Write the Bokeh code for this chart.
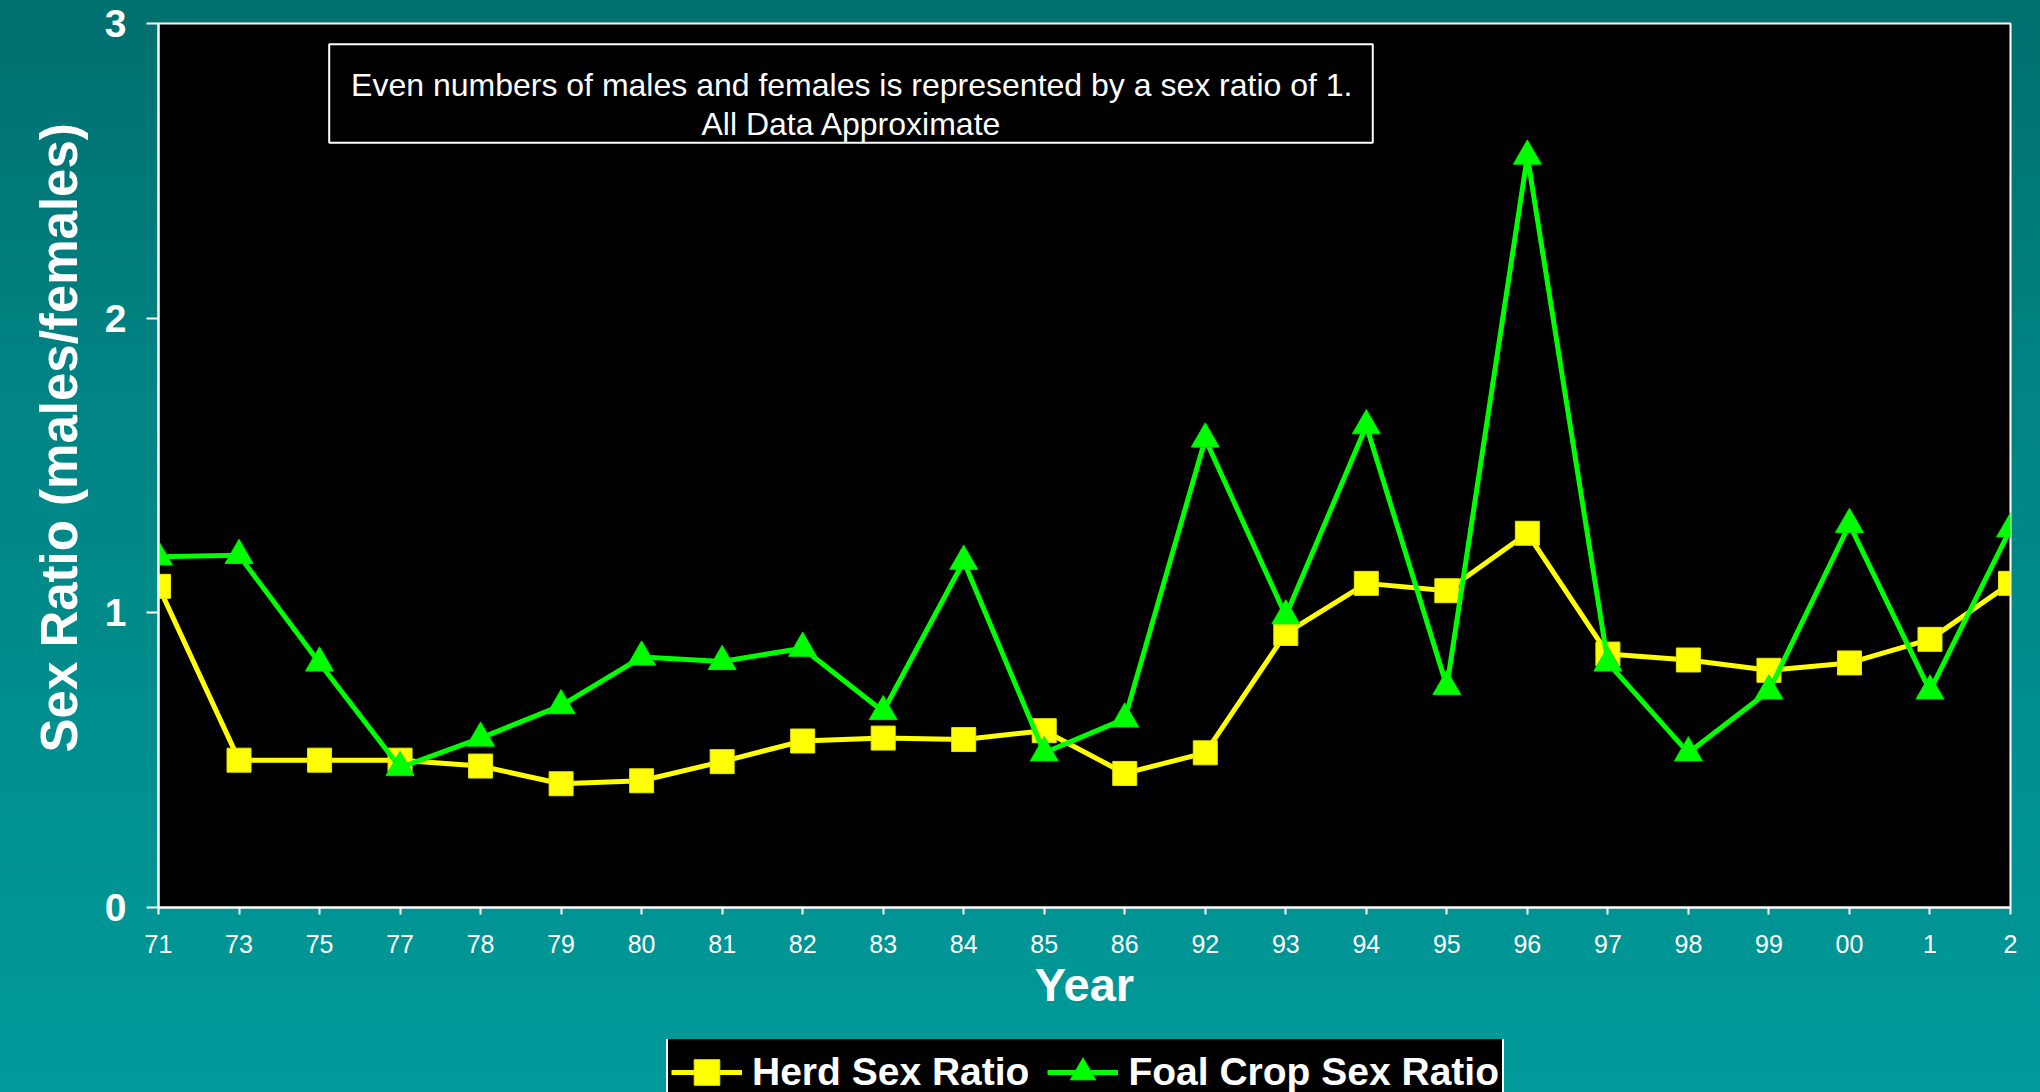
from bokeh.plotting import figure
from bokeh.layouts import column
from bokeh.models import (FixedTicker, Legend, LegendItem, Label, BoxAnnotation,
                          GlobalInlineStyleSheet, Range1d, Title)
from bokeh.embed import file_html
from bokeh.resources import INLINE

years = ["71", "73", "75", "77", "78", "79", "80", "81", "82", "83", "84", "85",
         "86", "92", "93", "94", "95", "96", "97", "98", "99", "00", "1", "2"]
herd = [1.09, 0.50, 0.50, 0.50, 0.48, 0.42, 0.43, 0.495, 0.565, 0.575, 0.57, 0.60,
        0.455, 0.525, 0.93, 1.10, 1.075, 1.27, 0.86, 0.84, 0.805, 0.83, 0.91, 1.10]
foal = [1.19, 1.195, 0.83, 0.475, 0.575, 0.685, 0.85, 0.835, 0.88, 0.665, 1.175, 0.525,
        0.64, 1.59, 0.99, 1.635, 0.75, 2.55, 0.83, 0.525, 0.735, 1.30, 0.735, 1.285]
y_ticks = [0, 1, 2, 3]
series_names = ["Herd Sex Ratio", "Foal Crop Sex Ratio"]
note_lines = ["Even numbers of males and females is represented by a sex ratio of 1.",
              "All Data Approximate"]
y_title = "Sex Ratio (males/females)"
x_title = "Year"

FONT = "'Liberation Sans', Arial, Helvetica, sans-serif"
xs = list(range(len(years)))
HERD_C = "#ffff00"
FOAL_C = "#00ff00"

bg = GlobalInlineStyleSheet(css="""
html { background: linear-gradient(to bottom, #006f6f 0%, #008383 35%, #009a9a 100%); min-height: 100%; }
body { background: transparent; }
""")

p = figure(width=2040, height=1039, output_backend="svg", toolbar_location=None,
           x_range=Range1d(0, len(years) - 1), y_range=Range1d(0, 3),
           min_border_left=158, min_border_top=23, min_border_right=30, min_border_bottom=132,
           background_fill_color="black", border_fill_color=None,
           outline_line_color="white", outline_line_width=2)
p.stylesheets = [bg]
p.grid.visible = False

# axes
p.xaxis.ticker = FixedTicker(ticks=xs)
p.xaxis.major_label_overrides = {i: y for i, y in enumerate(years)}
p.yaxis.ticker = FixedTicker(ticks=y_ticks)
for ax in (p.xaxis[0], p.yaxis[0]):
    ax.axis_line_color = "white"
    ax.axis_line_width = 2
    ax.major_tick_line_color = "white"
    ax.major_tick_line_width = 2
    ax.major_tick_in = 0
    ax.minor_tick_line_color = None
    ax.major_label_text_color = "white"
    ax.major_label_text_font = FONT
    ax.axis_label_text_color = "white"
    ax.axis_label_text_font = FONT
    ax.axis_label_text_font_style = "bold"

p.xaxis.major_tick_out = 7
p.xaxis.major_label_text_font_size = "25px"
p.xaxis.major_label_standoff = 20
p.xaxis.axis_label = x_title
p.xaxis.axis_label_text_font_size = "47px"
p.xaxis.axis_label_standoff = 2

p.yaxis.major_tick_out = 12
p.yaxis.major_label_text_font_size = "39px"
p.yaxis.major_label_text_font_style = "bold"
p.yaxis.major_label_standoff = 20

# y title as a side title so it can be offset upward like the original
p.add_layout(Title(text=y_title, align="left", offset=155, standoff=27,
                   text_color="white", text_font=FONT, text_font_style="bold",
                   text_font_size="51px"), "left")

# note box
box = BoxAnnotation(left=2.12, right=15.08, bottom=2.595, top=2.93,
                    fill_color="black", fill_alpha=1.0,
                    line_color="white", line_width=2, line_alpha=1.0)
p.add_layout(box)
p.add_layout(Label(x=8.61, y=2.79, text=note_lines[0], text_align="center",
                   text_baseline="alphabetic", text_color="white",
                   text_font=FONT, text_font_size="32px"))
p.add_layout(Label(x=8.61, y=2.66, text=note_lines[1], text_align="center",
                   text_baseline="alphabetic", text_color="white",
                   text_font=FONT, text_font_size="32px"))


def draw_series(fig):
    hl = fig.line(xs, herd, line_color=HERD_C, line_width=5)
    hs = fig.scatter(xs, herd, marker="square", size=24, fill_color=HERD_C,
                     line_color="#e6e600", line_width=1)
    fl = fig.line(xs, foal, line_color=FOAL_C, line_width=5)
    fs = fig.scatter(xs, foal, marker="triangle", size=28, fill_color=FOAL_C,
                     line_color="#00e600", line_width=1)
    return hl, hs, fl, fs


draw_series(p)

# legend strip below the chart (the original legend box runs off the bottom edge);
# its own ranges sit away from the data so only the legend keys show there
lg = figure(width=2040, height=53, output_backend="svg", toolbar_location=None,
            x_axis_type=None, y_axis_type=None,
            x_range=Range1d(1000, 1001), y_range=Range1d(1000, 1001),
            min_border=0, min_border_left=0, min_border_right=0, min_border_top=0,
            min_border_bottom=0, background_fill_color=None, border_fill_color=None,
            outline_line_color=None)
lg.grid.visible = False
k_hl, k_hs, k_fl, k_fs = draw_series(lg)

legend = Legend(items=[LegendItem(label=series_names[0], renderers=[k_hl, k_hs]),
                       LegendItem(label=series_names[1], renderers=[k_fl, k_fs])],
                orientation="horizontal", location=(508, -17),
                background_fill_color="black", background_fill_alpha=1.0,
                border_line_color="white", border_line_width=2, border_line_alpha=1.0,
                label_text_color="white", label_text_font=FONT,
                label_text_font_style="bold", label_text_font_size="39px",
                glyph_width=71, glyph_height=64, label_standoff=10, spacing=18,
                padding=3, margin=0)
lg.add_layout(legend)

layout = column(p, lg, spacing=0)
open("out.html", "w").write(file_html(layout, INLINE))
